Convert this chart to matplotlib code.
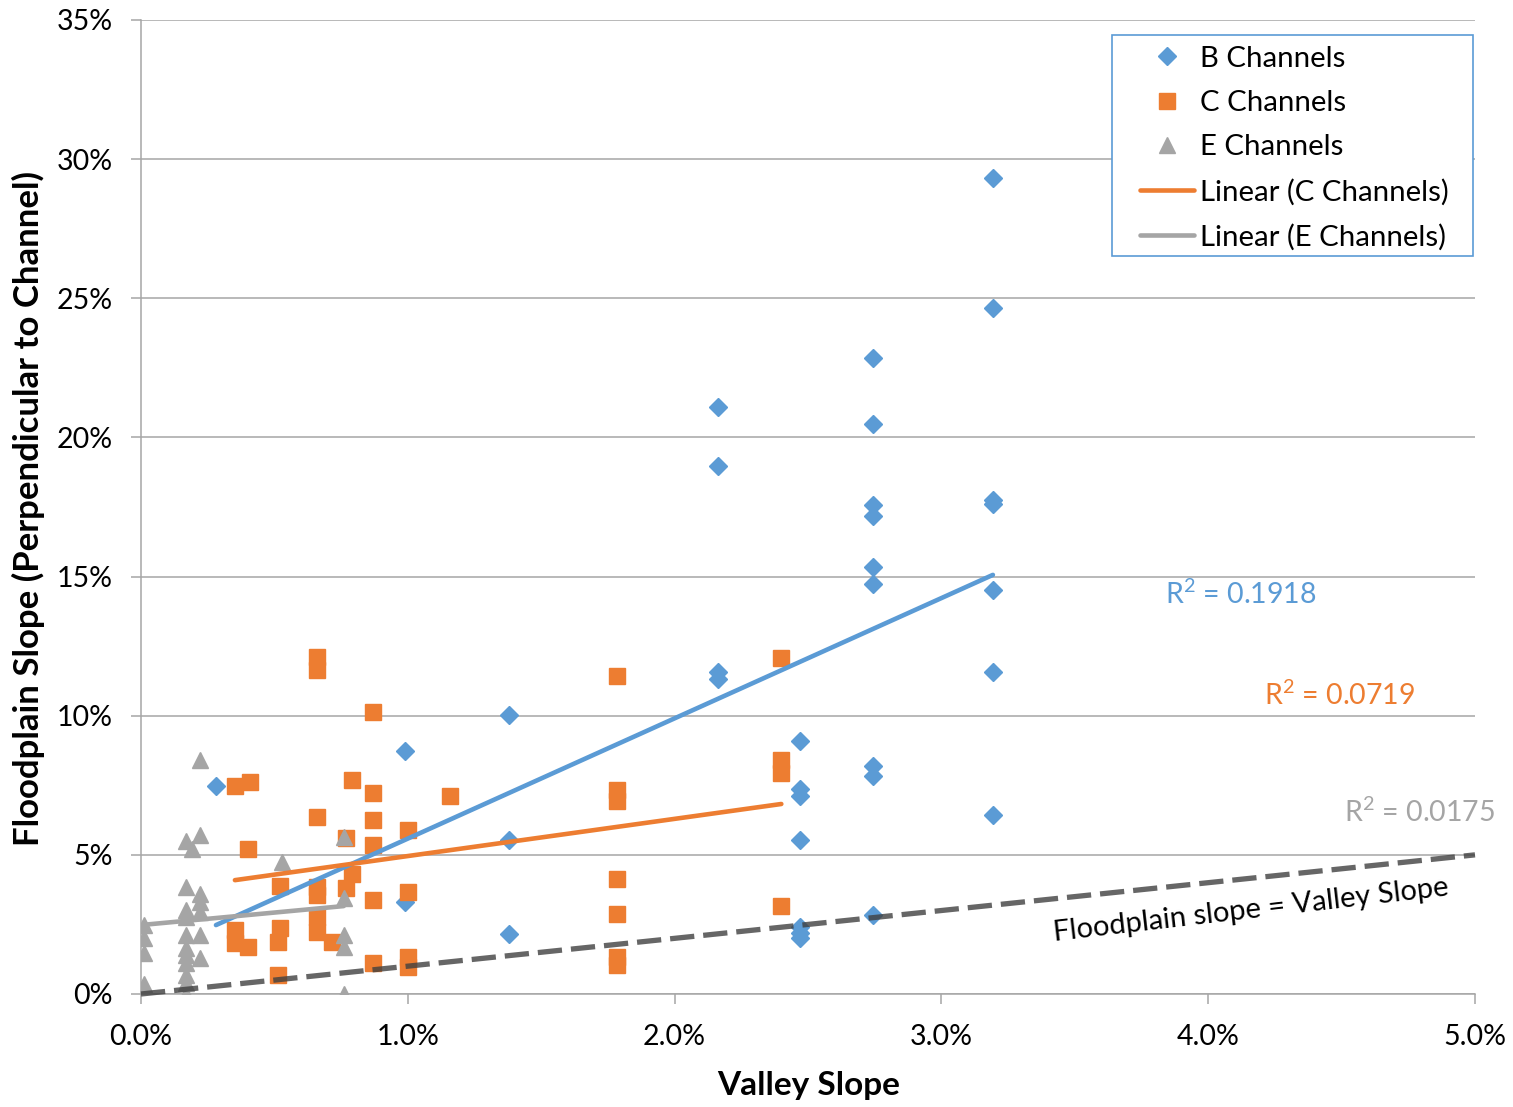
import numpy as np
import matplotlib
matplotlib.use("Agg")
import matplotlib.pyplot as plt
from matplotlib.lines import Line2D
from matplotlib.patches import Rectangle
from matplotlib.legend_handler import HandlerLine2D

plt.rcParams['font.family'] = ['Lato', 'DejaVu Sans']
plt.rcParams['mathtext.fontset'] = 'custom'
plt.rcParams['mathtext.rm'] = 'Lato'
plt.rcParams['mathtext.it'] = 'Lato:italic'
plt.rcParams['mathtext.bf'] = 'Lato:bold'

# Valley slope (%) vs. floodplain slope perpendicular to channel (%)
b_valley = [0.281, 0.99, 0.99, 1.38, 1.38, 1.38,
            2.163, 2.163, 2.163, 2.163,
            2.47, 2.47, 2.47, 2.47, 2.47, 2.47, 2.47,
            2.744, 2.744, 2.744, 2.744, 2.744, 2.744, 2.744, 2.744, 2.744,
            3.193, 3.193, 3.193, 3.193, 3.193, 3.193, 3.193]
b_floodplain = [7.47, 8.73, 3.31, 10.02, 5.53, 2.16,
                21.09, 18.97, 11.57, 11.32,
                9.09, 7.37, 7.11, 5.53, 2.40, 2.19, 2.02,
                22.85, 20.48, 17.57, 17.18, 15.34, 14.73, 8.19, 7.83, 2.84,
                29.32, 24.65, 17.75, 17.61, 14.52, 11.57, 6.43]

c_valley = [0.352, 0.409, 0.40, 0.352, 0.352, 0.40,
            0.52, 0.52, 0.513, 0.513,
            0.66, 0.66, 0.66, 0.66, 0.66, 0.66, 0.66,
            0.716, 0.79, 0.77, 0.79, 0.77,
            0.87, 0.87, 0.87, 0.87, 0.87, 0.87,
            1.0, 1.0, 1.0, 1.0, 1.16,
            1.784, 1.784, 1.784, 1.784, 1.784, 1.784, 1.784,
            2.40, 2.40, 2.40, 2.40]
c_floodplain = [7.47, 7.62, 5.21, 2.30, 1.83, 1.69,
                3.88, 2.37, 1.87, 0.68,
                12.11, 11.64, 6.36, 3.85, 3.57, 2.77, 2.23,
                1.87, 7.69, 5.6, 4.3, 3.8,
                10.13, 7.22, 6.25, 5.35, 3.38, 1.11,
                5.89, 3.67, 1.33, 0.97, 7.13,
                11.43, 7.33, 6.94, 4.13, 2.87, 1.33, 1.04,
                12.07, 8.41, 7.94, 3.16]

e_valley = [0.01, 0.01, 0.01, 0.01,
            0.17, 0.17, 0.17, 0.17, 0.17, 0.17, 0.17, 0.17, 0.17, 0.17, 0.17,
            0.19,
            0.22, 0.22, 0.22, 0.22, 0.22, 0.22, 0.22,
            0.53,
            0.76, 0.76, 0.76, 0.76, 0.76]
e_floodplain = [2.48, 2.0, 1.47, 0.35,
                5.5, 3.86, 3.02, 2.77, 2.12, 1.65, 1.4, 1.1, 0.68, 0.4, 0.0,
                5.2,
                8.4, 5.7, 3.6, 3.3, 2.95, 2.12, 1.3,
                4.74,
                5.64, 3.45, 2.12, 1.69, 0.0]

# Reference line where floodplain slope equals valley slope
equal_slope = [0.0, 5.0]

x_ticks = [0, 1, 2, 3, 4, 5]
x_tick_labels = ["0.0%", "1.0%", "2.0%", "3.0%", "4.0%", "5.0%"]
y_ticks = [0, 5, 10, 15, 20, 25, 30, 35]
y_tick_labels = ["0%", "5%", "10%", "15%", "20%", "25%", "30%", "35%"]

series_labels = ["B Channels", "C Channels", "E Channels",
                 "Linear (C Channels)", "Linear (E Channels)"]
r2_labels = [r"R$^{\mathrm{2}}$ = 0.1918", r"R$^{\mathrm{2}}$ = 0.0719",
             r"R$^{\mathrm{2}}$ = 0.0175"]

BLUE = '#5B9BD5'
ORANGE = '#ED7D31'
GRAY = '#A5A5A5'
AXIS_GRAY = '#A6A6A6'

W, H = 1513, 1107
fig = plt.figure(figsize=(W / 100, H / 100), dpi=100)
ax = fig.add_axes([141 / W, 1 - 994 / H, (1475 - 141) / W, (994 - 20) / H])

ax.set_xlim(0, 5)
ax.set_ylim(0, 35)

ax.grid(axis='y', color=AXIS_GRAY, linewidth=1.1, zorder=0)
ax.set_axisbelow(True)
for side in ('top', 'right'):
    ax.spines[side].set_visible(False)
for side in ('left', 'bottom'):
    ax.spines[side].set_color(AXIS_GRAY)
    ax.spines[side].set_linewidth(1.1)

ax.set_xticks(x_ticks)
ax.set_xticklabels(x_tick_labels)
ax.set_yticks(y_ticks)
ax.set_yticklabels(y_tick_labels)
ax.tick_params(axis='both', colors=AXIS_GRAY, labelcolor='black',
               labelsize=20.5, length=7, width=1.1, direction='out')
ax.tick_params(axis='x', pad=14.5)
ax.tick_params(axis='y', pad=13.5)

# Scatter series
ax.plot(b_valley, b_floodplain, linestyle='none', marker='D', ms=9.6,
        color=BLUE, mec=BLUE, zorder=3)
ax.plot(c_valley, c_floodplain, linestyle='none', marker='s', ms=11.5,
        color=ORANGE, mec=ORANGE, zorder=3)
ax.plot(e_valley, e_floodplain, linestyle='none', marker='^', ms=12,
        color=GRAY, mec=GRAY, zorder=3)

# Least-squares linear trend lines over each series' range
for xs, ys, col in ((b_valley, b_floodplain, BLUE),
                    (c_valley, c_floodplain, ORANGE),
                    (e_valley, e_floodplain, GRAY)):
    xs = np.asarray(xs)
    slope, intercept = np.polyfit(xs, np.asarray(ys), 1)
    xr = np.array([xs.min(), xs.max()])
    ax.plot(xr, slope * xr + intercept, color=col, linewidth=3.3,
            solid_capstyle='round', zorder=4)

# 1:1 line
ax.plot(equal_slope, equal_slope, color='#404040', alpha=0.8, linewidth=3.8,
        dashes=(4.6, 1.7), dash_capstyle='butt', zorder=5, clip_on=False)

ax.text(4.16, 3.0, "Floodplain slope = Valley Slope", fontsize=21,
        rotation=6.6, rotation_mode='anchor', ha='center', va='center',
        color='black', zorder=6)

ax.text(4.123, 14.37, r2_labels[0], color=BLUE, fontsize=20.5,
        ha='center', va='center')
ax.text(4.494, 10.74, r2_labels[1], color=ORANGE, fontsize=20.5,
        ha='center', va='center')
ax.text(4.794, 6.54, r2_labels[2], color=GRAY, fontsize=20.5,
        ha='center', va='center', clip_on=False)

ax.set_xlabel("Valley Slope", fontsize=24, fontweight='bold', va='center')
ax.xaxis.set_label_coords(0.5007, (994 - 1086) / 974)
ax.set_ylabel("Floodplain Slope (Perpendicular to Channel)", fontsize=25,
              fontweight='bold', va='center')
ax.yaxis.set_label_coords((28 - 141) / 1334, 0.498)


class ShortHandle(HandlerLine2D):
    """Legend handle drawn in a fixed-length slot at the right of the handle box."""
    slot = 39.0  # points

    def create_artists(self, legend, orig_handle, xdescent, ydescent,
                       width, height, fontsize, trans):
        artists = super().create_artists(legend, orig_handle, xdescent,
                                         ydescent, width, height, fontsize,
                                         trans)
        x1 = width - xdescent
        x0 = x1 - self.slot
        for art in artists:
            xd = np.asarray(art.get_xdata(), dtype=float)
            if xd.size > 1 and art.get_linestyle() not in ('None', 'none', ''):
                art.set_xdata(np.linspace(x0, x1, xd.size))
            else:
                art.set_xdata(np.full(xd.size, (x0 + x1) / 2))
        return artists


handles = [
    Line2D([], [], linestyle='none', marker='D', ms=9.6, color=BLUE, mec=BLUE),
    Line2D([], [], linestyle='none', marker='s', ms=11.5, color=ORANGE, mec=ORANGE),
    Line2D([], [], linestyle='none', marker='^', ms=12, color=GRAY, mec=GRAY),
    Line2D([], [], color=ORANGE, linewidth=3.3, solid_capstyle='round'),
    Line2D([], [], color=GRAY, linewidth=3.3, solid_capstyle='round'),
]
leg = fig.legend(handles, series_labels, loc='upper left',
                 bbox_to_anchor=(1112 / W, 1 - 35 / H), frameon=False,
                 fontsize=21.2, handlelength=2.42, handletextpad=0.2,
                 labelspacing=0.62, borderpad=0.36, borderaxespad=0,
                 handler_map={Line2D: ShortHandle()})

# Legend frame
fig.patches.append(Rectangle((1112 / W, 1 - 256 / H), (1473 - 1112) / W,
                             (256 - 35) / H, transform=fig.transFigure,
                             fill=True, facecolor='white', edgecolor=BLUE,
                             linewidth=1.2, zorder=10))
leg.set_zorder(11)

fig.savefig("out.png", dpi=100)
